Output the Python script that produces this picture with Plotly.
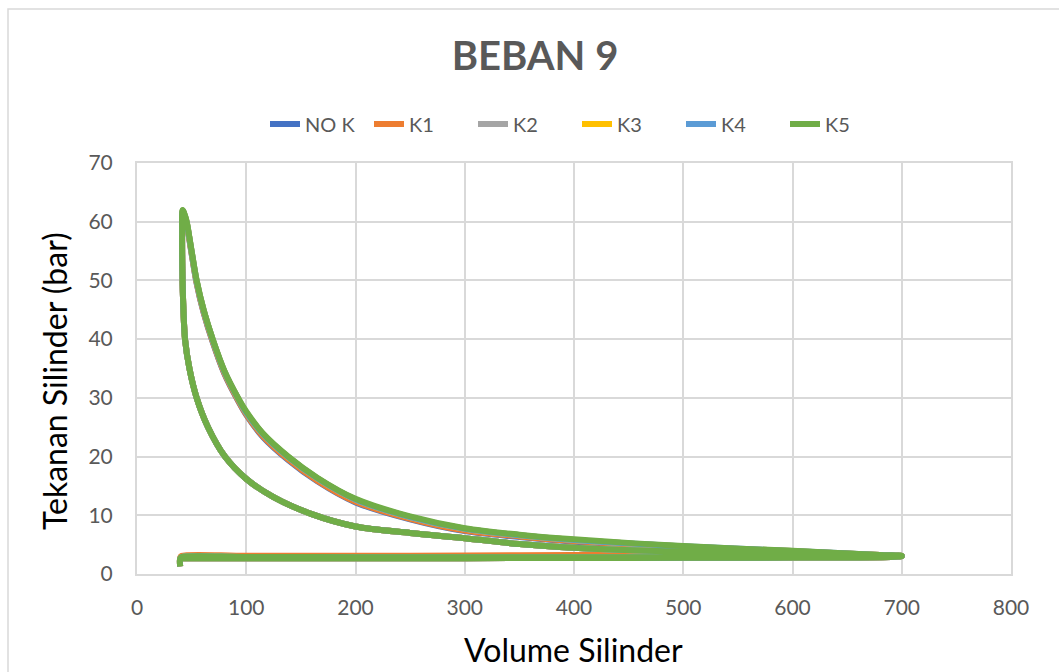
import plotly.graph_objects as go

# ---------------- data ----------------
SERIES_NAMES = ["NO K", "K1", "K2", "K3", "K4", "K5"]
SERIES_COLORS = ["#4472C4", "#ED7D31", "#A5A5A5", "#FFC000", "#5B9BD5", "#70AD47"]

# cylinder volume along the cycle: intake -> compression -> combustion -> expansion -> exhaust
V_PATH = [40.0, 100, 200, 300, 400, 500, 600, 690, 700,
          650, 600, 500, 400, 350, 300, 250, 200, 160, 125, 100, 80.5, 65, 54.6, 48, 44,
          42.5, 41.5, 41.3, 41.8,
          44, 45.5, 50, 54.6, 61, 69.3, 80, 92.8, 100, 115, 138.5, 165, 200, 250, 300, 350, 400,
          500, 600, 680, 700,
          650, 600, 500, 400, 300, 200, 100, 41, 39.5, 39.5]

P_NOK = [2.70, 2.70, 2.70, 2.70, 2.72, 2.75, 2.80, 2.90, 3.05,
         3.15, 3.30, 3.75, 4.45, 5.10, 6.10, 7.00, 8.10, 10.2, 13.1, 16.2, 20.0, 25.0, 30.0, 35.0, 39.9,
         45.0, 52.0, 58.0, 61.6,
         60.6, 59.6, 54.5, 49.5, 44.5, 39.5, 34.1, 29.4, 27.1, 23.4, 19.4, 15.8, 12.2, 9.3, 7.3, 6.3, 5.5,
         4.50, 3.80, 3.20, 3.05,
         2.95, 2.92, 2.90, 2.88, 2.88, 2.88, 2.88, 2.88, 2.60, 1.30]
P_K1 = [2.70, 2.70, 2.70, 2.70, 2.72, 2.75, 2.80, 2.90, 3.05,
        3.15, 3.30, 3.75, 4.45, 5.10, 6.10, 7.00, 8.10, 10.2, 13.1, 16.2, 20.0, 25.0, 30.0, 35.0, 39.9,
        45.0, 52.0, 58.0, 61.7,
        60.7, 59.7, 54.6, 49.6, 44.6, 39.6, 34.2, 29.5, 27.2, 23.5, 19.5, 15.9, 12.3, 9.4, 7.4, 6.4, 5.6,
        4.55, 3.85, 3.25, 3.10,
        3.25, 3.40, 3.35, 3.25, 3.15, 3.10, 3.10, 3.10, 2.80, 1.30]
P_K2 = [2.70, 2.70, 2.70, 2.70, 2.72, 2.75, 2.80, 2.90, 3.05,
        3.15, 3.30, 3.75, 4.45, 5.10, 6.10, 7.00, 8.10, 10.2, 13.1, 16.2, 20.0, 25.0, 30.0, 35.0, 39.9,
        45.0, 52.0, 58.0, 61.9,
        60.9, 59.9, 54.9, 49.9, 44.9, 39.9, 34.5, 29.8, 27.5, 23.9, 19.9, 16.3, 12.7, 9.7, 7.7, 6.6, 5.8,
        4.70, 3.90, 3.25, 3.10,
        2.95, 2.90, 2.88, 2.87, 2.87, 2.87, 2.88, 2.88, 2.60, 1.30]
P_K3 = [2.70, 2.70, 2.70, 2.70, 2.72, 2.75, 2.80, 2.90, 3.05,
        3.15, 3.30, 3.75, 4.45, 5.10, 6.10, 7.00, 8.10, 10.2, 13.1, 16.2, 20.0, 25.0, 30.0, 35.0, 39.9,
        45.0, 52.0, 58.0, 61.9,
        60.9, 59.9, 54.9, 49.9, 44.9, 39.9, 34.5, 29.8, 27.5, 23.9, 19.9, 16.3, 12.7, 9.7, 7.7, 6.6, 5.8,
        4.70, 3.90, 3.25, 3.10,
        2.95, 2.90, 2.88, 2.87, 2.87, 2.87, 2.88, 2.88, 2.60, 1.30]
P_K4 = [2.70, 2.70, 2.70, 2.70, 2.72, 2.75, 2.80, 2.90, 3.05,
        3.15, 3.30, 3.75, 4.45, 5.10, 6.10, 7.00, 8.10, 10.2, 13.1, 16.2, 20.0, 25.0, 30.0, 35.0, 39.9,
        45.0, 52.0, 58.0, 61.9,
        60.9, 59.9, 54.9, 49.9, 44.9, 39.9, 34.5, 29.8, 27.5, 23.9, 19.9, 16.3, 12.7, 9.7, 7.7, 6.6, 5.8,
        4.72, 3.92, 3.25, 3.10,
        2.95, 2.90, 2.88, 2.87, 2.87, 2.87, 2.88, 2.88, 2.60, 1.30]
P_K5 = [2.70, 2.70, 2.70, 2.70, 2.72, 2.75, 2.80, 2.90, 3.05,
        3.15, 3.30, 3.75, 4.45, 5.10, 6.10, 7.00, 8.10, 10.2, 13.1, 16.2, 20.0, 25.0, 30.0, 35.0, 39.9,
        45.0, 52.0, 58.0, 62.0,
        61.0, 60.0, 55.0, 50.0, 45.0, 40.0, 34.6, 29.9, 27.7, 24.0, 20.0, 16.4, 12.8, 9.8, 7.8, 6.7, 5.9,
        4.75, 3.95, 3.25, 3.10,
        2.95, 2.90, 2.88, 2.87, 2.87, 2.87, 2.88, 2.88, 2.60, 1.30]
P_ALL = [P_NOK, P_K1, P_K2, P_K3, P_K4, P_K5]

X_TICKS = [0, 100, 200, 300, 400, 500, 600, 700, 800]
Y_TICKS = [0, 10, 20, 30, 40, 50, 60, 70]

TITLE = "BEBAN 9"
X_TITLE = "Volume Silinder"
Y_TITLE = "Tekanan Silinder (bar)"

# ---------------- figure ----------------
W, H = 1059, 672
ML, MR, MT, MB = 137, 48, 163, 98
PW, PH = W - ML - MR, H - MT - MB
FONT = "Lato"
GRID = "#D9D9D9"
TXT = "#595959"


def px_x(px):
    return (px - ML) / PW


def px_y(py):
    return (H - MB - py) / PH


fig = go.Figure()
for name, color, p in zip(SERIES_NAMES, SERIES_COLORS, P_ALL):
    fig.add_trace(go.Scatter(
        x=V_PATH, y=p, mode="lines", name=name,
        line=dict(color=color, width=6, shape="spline", smoothing=0.9),
    ))

axis_common = dict(
    showgrid=True, gridcolor=GRID, gridwidth=2,
    showline=True, linecolor=GRID, linewidth=2, mirror=True,
    zeroline=False, ticks="", fixedrange=True,
    tickfont=dict(family=FONT, size=21, color=TXT),
)
fig.update_xaxes(range=[0, 800], tickvals=X_TICKS, ticklabelstandoff=14, **axis_common)
fig.update_yaxes(range=[0, 70], tickvals=Y_TICKS, ticklabelstandoff=18, **axis_common)

fig.update_layout(
    width=W, height=H,
    margin=dict(l=ML, r=MR, t=MT, b=MB, autoexpand=False),
    paper_bgcolor="white", plot_bgcolor="white",
    font=dict(family=FONT, color=TXT),
    title=dict(text="<b>" + TITLE + "</b>", x=535 / W, xref="container", xanchor="center",
               y=1 - 56 / H, yref="container", yanchor="middle",
               font=dict(family=FONT, size=40, color=TXT)),
    showlegend=True,
    legend=dict(orientation="h", xref="container", yref="container",
                x=265 / W, xanchor="left", y=1 - 124 / H, yanchor="middle",
                font=dict(family=FONT, size=20, color=TXT),
                entrywidth=59, entrywidthmode="pixels",
                bgcolor="rgba(0,0,0,0)", traceorder="normal"),
    annotations=[
        dict(text=X_TITLE, xref="paper", yref="paper", x=px_x(573), y=px_y(649),
             xanchor="center", yanchor="middle", showarrow=False,
             font=dict(family=FONT, size=32, color="#000000")),
        dict(text=Y_TITLE, xref="paper", yref="paper", x=px_x(54), y=px_y(381),
             xanchor="center", yanchor="middle", showarrow=False, textangle=-90,
             font=dict(family=FONT, size=32, color="#000000")),
    ],
    shapes=[dict(type="rect", xref="paper", yref="paper",
                 x0=px_x(8), x1=px_x(1066), y0=px_y(680), y1=px_y(9),
                 line=dict(color=GRID, width=1.5), layer="below")],
)

fig.write_html("out.html")
